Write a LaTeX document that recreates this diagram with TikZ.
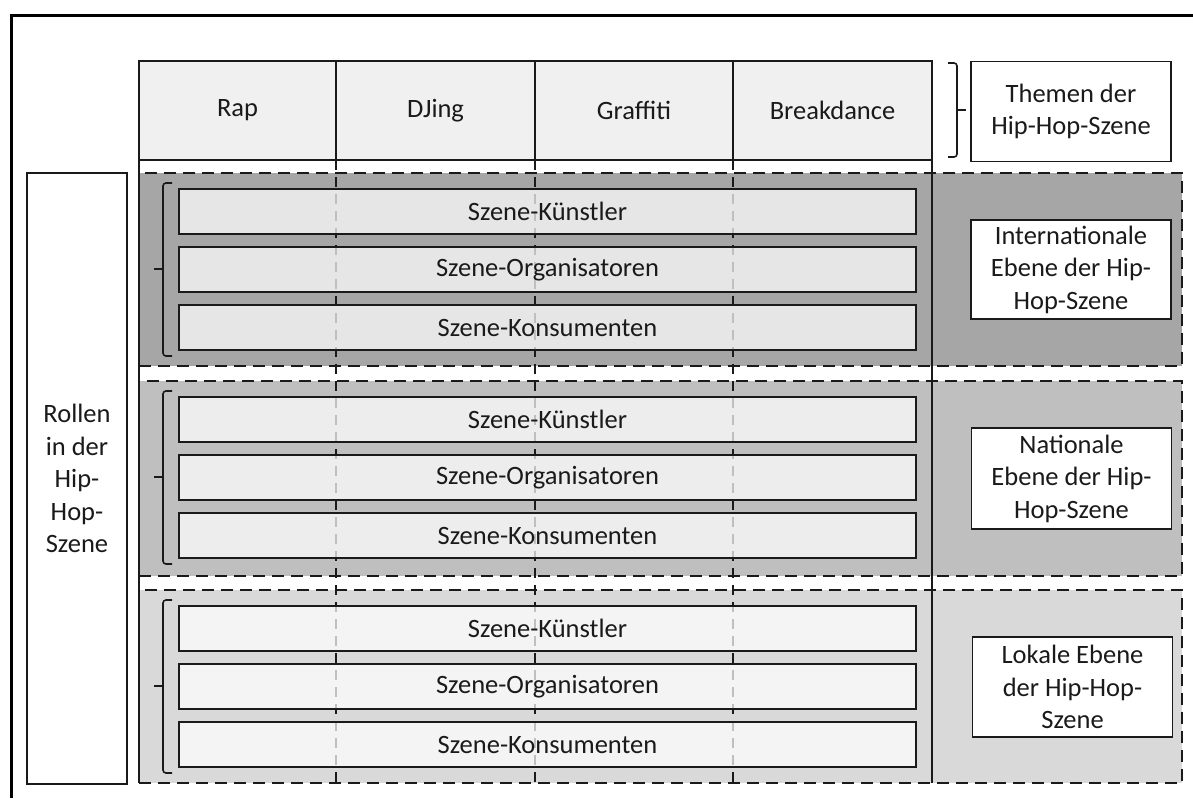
\documentclass[tikz,border=0pt]{standalone}
\usepackage{fontspec}
\setmainfont{Carlito}
\definecolor{regA}{HTML}{A6A6A6}
\definecolor{regB}{HTML}{BFBFBF}
\definecolor{regC}{HTML}{D9D9D9}
\definecolor{hdrfill}{HTML}{F0F0F0}
\definecolor{ink}{HTML}{1A1A1A}
\begin{document}
\begin{tikzpicture}[x=1pt,y=-1pt,
  every node/.style={font=\fontsize{26.5}{32.5}\selectfont, text=ink, inner sep=0pt, outer sep=0pt},
  region/.style={draw=ink, line width=2pt, dash pattern=on 12pt off 7pt, minimum width=1043pt, anchor=north west},
  hdrcell/.style={draw=ink, line width=1.8pt, fill=hdrfill, minimum height=99pt},
  rolebox/.style={draw=ink, line width=2pt, fill=white, fill opacity=0.72, text opacity=1, minimum width=737pt, minimum height=45pt, anchor=north west},
  labelbox/.style={draw=ink, line width=1.8pt, fill=white, minimum width=200pt, minimum height=100pt, align=center},
  coldash/.style={draw=ink, line width=2pt, dash pattern=on 10pt off 7pt},
  solidv/.style={draw=ink, line width=1.8pt},
  bracket/.style={draw=ink, line width=1.6pt, rounded corners=3pt},
  frame/.style={draw=black, line width=3pt}
]
\useasboundingbox (0,0) rectangle (1193,798);
% level regions
\node[region, fill=regA, minimum height=193pt] (r1) at (139,173) {};
\node[region, fill=regB, minimum height=195pt] (r2) at (139,381) {};
\node[region, fill=regC, minimum height=193pt] (r3) at (139,590) {};
% header cells
\node[hdrcell, minimum width=197pt] (rap) at (237.5,110.5) {Rap};
\node[hdrcell, minimum width=199pt] (djing) at (435.5,110.5) {DJing};
\node[hdrcell, minimum width=198pt] (graffiti) at (634,110.5) {Graffiti};
\node[hdrcell, minimum width=199pt] (breakdance) at (832.5,110.5) {Breakdance};
% column lines through the levels
\draw[coldash] (rap.south east) -- (rap.south east |- r3.south);
\draw[coldash] (djing.south east) -- (djing.south east |- r3.south);
\draw[coldash] (graffiti.south east) -- (graffiti.south east |- r3.south);
\draw[solidv] (rap.south west) -- (rap.south west |- r3.south);
\draw[solidv] (breakdance.south east) -- (breakdance.south east |- r3.south);
% role boxes
\foreach \t/\n in {173/1, 381/2, 590/3} {
  \node[rolebox] (k\n) at (179,\t+16) {Szene-K\"unstler};
  \node[rolebox] (o\n) at (179,\t+74) {Szene-Organisatoren};
  \node[rolebox] (c\n) at (179,\t+132) {Szene-Konsumenten};
  \draw[bracket] (172,\t+10) -- (163,\t+10) -- (163,\t+183) -- (172,\t+183);
  \draw[bracket, rounded corners=0pt] (163,\t+96) -- (154,\t+96);
}
% theme bracket
\draw[bracket] (948,63) -- (957,63) -- (957,157) -- (948,157);
\draw[bracket, rounded corners=0pt] (957,110) -- (966,110);
% labels
\node[labelbox] (themen) at (1071,111.5) {Themen der\\Hip-Hop-Szene};
\node[labelbox, minimum height=99pt] (intl) at (1071,269.5) {Internationale\\Ebene der Hip-\\Hop-Szene};
\node[labelbox, minimum height=101pt] (natl) at (1071.5,478.5) {Nationale\\Ebene der Hip-\\Hop-Szene};
\node[labelbox] (lokal) at (1072.5,687) {Lokale Ebene\\der Hip-Hop-\\Szene};
\node[labelbox, minimum width=100pt, minimum height=611pt] (rollen) at (77,478.5) {Rollen\\in der\\Hip-\\Hop-\\Szene};
% outer frame
\draw[frame] (11,798) -- (11,15) -- (1193,15);
\end{tikzpicture}
\end{document}
